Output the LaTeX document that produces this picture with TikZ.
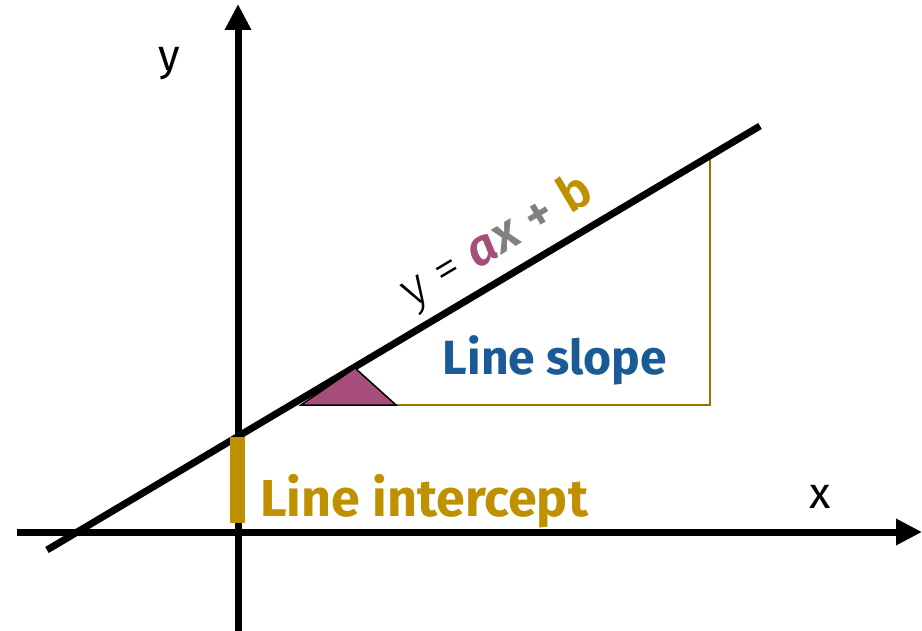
\documentclass[tikz,border=0pt]{standalone}
\usepackage{fontspec}
\setmainfont{Fira Sans}
\usetikzlibrary{arrows.meta}
\definecolor{magen}{HTML}{A64D79}
\definecolor{goldc}{HTML}{BF9000}
\definecolor{bluec}{HTML}{1A5A96}
\definecolor{grayc}{HTML}{808080}
\tikzset{
  axis/.style={line width=7pt, -{Triangle[length=26pt,width=25pt]}},
  lbl/.style={inner sep=0pt, font=\fontsize{44}{50}\selectfont},
  big/.style={inner sep=0pt, font=\fontsize{50}{58}\selectfont\bfseries}
}
\begin{document}
\begin{tikzpicture}[x=1pt,y=-1pt]
\useasboundingbox (0,0) rectangle (922,631);
% coordinates
\coordinate (yb) at (238,631);
\coordinate (yt) at (238,4);
\coordinate (xl) at (17,532);
\coordinate (xr) at (922,532);
\coordinate (la) at (47,550);
\coordinate (lb) at (760,126);
\coordinate (ib) at (237,523);
\coordinate (it) at (237,437);
\coordinate (t1) at (301,405);
\coordinate (t2) at (355,368);
\coordinate (t3) at (396,405);
\coordinate (sr) at (710,405);
\coordinate (st) at (710,156);
% slope triangle guide
\draw[goldc!80!black, line width=1.6pt] (t3) -- (sr) -- (st);
% axes
\draw[axis] (yb) -- (yt);
\draw[axis] (xl) -- (xr);
% main line
\draw[line width=7pt] (la) -- (lb);
% angle triangle
\draw[fill=magen, line width=1.5pt, line join=miter] (t1) -- (t2) -- (t3) -- cycle;
% intercept bar
\draw[goldc, line width=15pt] (ib) -- (it);
% labels
\node[lbl] (ylab) at (169,64) {y};
\node[lbl] (xlab) at (820,497) {x};
\node[big, text=bluec, font=\fontsize{48}{56}\selectfont\bfseries] (slope) at (555,360) {Line slope};
\node[big, text=goldc, anchor=west, font=\fontsize{52}{60}\selectfont\bfseries] (icpt) at (260,501) {Line intercept};
\node[inner sep=0pt, rotate=30.7, font=\fontsize{50}{58}\selectfont] (eq) at (497,242)
  {\fontspec{Fira Sans Light}y = \textcolor{magen}{\bfseries\itshape a}\textcolor{grayc}{\bfseries\itshape x} \textcolor{grayc}{\bfseries +} \textcolor{goldc}{\bfseries b}};
\end{tikzpicture}
\end{document}
